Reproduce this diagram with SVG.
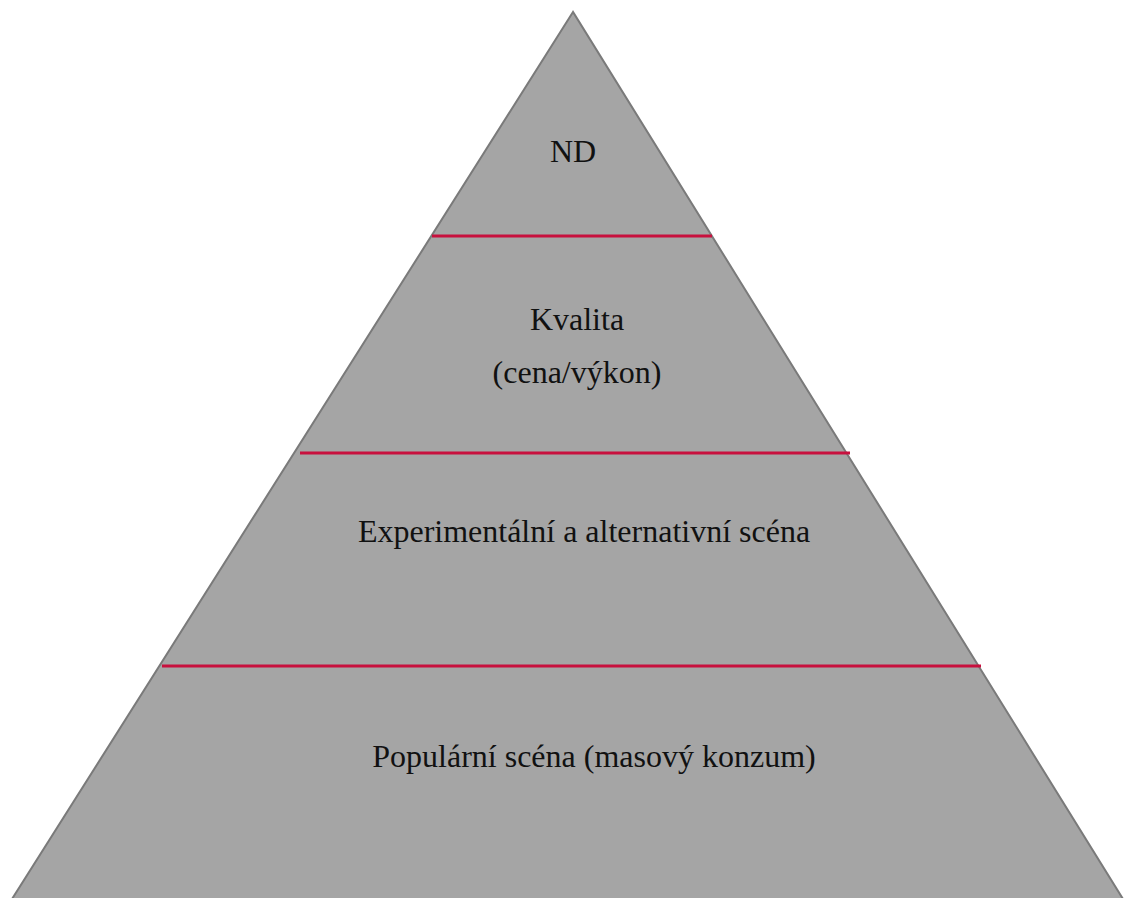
<svg xmlns="http://www.w3.org/2000/svg" width="1124" height="898" viewBox="0 0 1124 898">
<style>
.t{font-family:"Liberation Serif","Times New Roman",serif;font-size:32px;fill:#111;text-anchor:middle}
.sep{stroke:#C8103E;stroke-width:3;fill:none}
</style>
<rect width="1124" height="898" fill="#fff"/>
<g id="pyramid">
<polygon points="573,12 12,899 1123,899" fill="#A5A5A5" stroke="#7A7A7A" stroke-width="2"/>
</g>
<g id="connectors">
<line class="sep" x1="432" y1="236" x2="712" y2="236"/>
<line class="sep" x1="300" y1="453" x2="850" y2="453"/>
<line class="sep" x1="162" y1="666" x2="981" y2="666"/>
</g>
<g id="level-nd"><text class="t" x="573" y="162">ND</text></g>
<g id="level-kvalita"><text class="t" x="577" y="330">Kvalita</text><text class="t" x="577" y="383">(cena/výkon)</text></g>
<g id="level-experimental"><text class="t" x="584" y="542">Experimentální a alternativní scéna</text></g>
<g id="level-popular"><text class="t" x="594" y="767">Populární scéna (masový konzum)</text></g>
</svg>
